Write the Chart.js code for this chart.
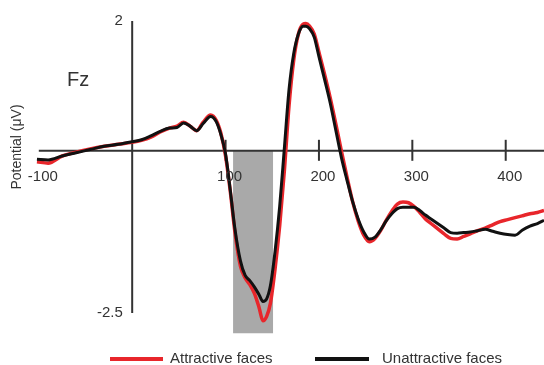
<!DOCTYPE html>
<html>
<head>
<meta charset="utf-8">
<script src="https://cdn.jsdelivr.net/npm/chart.js@4.4.1/dist/chart.umd.min.js"></script>
<style>
  html, body { margin: 0; padding: 0; background: #fff; }
  canvas { display: block; }
</style>
</head>
<body>
<canvas id="erpChart" width="544" height="365"></canvas>
<script>
/* ===================== DATA ===================== */
const timesMs = [-102, -90, -75, -60, -45, -30, -15, 0, 10, 20, 30, 40, 48, 55, 62, 69, 76, 84, 90, 95,
  100, 105, 110, 116, 121, 126, 131, 136, 140, 144, 148, 153, 158, 163, 168, 173, 178, 183, 186, 190,
  195, 200, 206, 212, 218, 224, 230, 236, 242, 248, 254, 260, 266, 272, 278, 284, 290, 296, 302, 308,
  314, 320, 327, 334, 341, 348, 355, 362, 370, 378, 386, 394, 402, 410, 418, 426, 434, 441];

const attractive = [-0.17, -0.19, -0.08, -0.02, 0.03, 0.07, 0.10, 0.13, 0.16, 0.21, 0.29, 0.35, 0.38, 0.44, 0.38, 0.31, 0.44, 0.55, 0.47, 0.27,
  -0.08, -0.62, -1.25, -1.78, -1.96, -2.06, -2.20, -2.42, -2.62, -2.55, -2.35, -1.82, -1.15, -0.30, 0.70, 1.40, 1.80, 1.95, 1.96, 1.92,
  1.80, 1.52, 1.18, 0.82, 0.42, 0.00, -0.40, -0.78, -1.08, -1.30, -1.40, -1.35, -1.23, -1.07, -0.93, -0.82, -0.79, -0.80, -0.86, -0.95,
  -1.05, -1.12, -1.20, -1.28, -1.35, -1.36, -1.32, -1.28, -1.23, -1.19, -1.14, -1.09, -1.06, -1.03, -1.00, -0.97, -0.95, -0.92];

const unattractive = [-0.13, -0.14, -0.08, -0.03, 0.02, 0.07, 0.10, 0.14, 0.17, 0.23, 0.30, 0.35, 0.36, 0.43, 0.38, 0.31, 0.42, 0.53, 0.45, 0.25,
  -0.05, -0.60, -1.20, -1.70, -1.92, -2.00, -2.10, -2.22, -2.32, -2.28, -2.08, -1.55, -0.85, 0.05, 0.95, 1.50, 1.80, 1.92, 1.92, 1.88,
  1.75, 1.45, 1.10, 0.74, 0.32, -0.10, -0.45, -0.78, -1.05, -1.25, -1.36, -1.33, -1.22, -1.08, -0.97, -0.89, -0.87, -0.87, -0.87, -0.92,
  -0.99, -1.05, -1.12, -1.19, -1.26, -1.27, -1.26, -1.25, -1.23, -1.21, -1.24, -1.27, -1.29, -1.30, -1.22, -1.16, -1.12, -1.07];

const xTicks = [-100, 100, 200, 300, 400];
const yTicks = [-2.5, 2];

// analysis window (ms) and how deep the grey box reaches (uV)
const shadeWindow = [108, 151];
const shadeDepth = -2.81;

const channelName = "Fz";
const yTitle = "Potential (\u03bcV)";
const seriesNames = ["Attractive faces", "Unattractive faces"];
const seriesColors = ["#e8262b", "#111111"];

/* ===================== PLUGINS ===================== */
const FONT = "'Liberation Sans', Arial, sans-serif";

// axis lines + crossing tick marks, drawn just after the grey window
const axesPlugin = {
  id: "erpAxes",
  afterDatasetDraw(chart, args) {
    if (args.index !== 0) return;
    const { ctx, chartArea } = chart;
    const x = chart.scales.x, y = chart.scales.y;
    const y0 = y.getPixelForValue(0);
    const x0 = x.getPixelForValue(0);

    ctx.save();
    ctx.strokeStyle = "#333";
    ctx.lineWidth = 2;

    ctx.beginPath();
    ctx.moveTo(x.getPixelForValue(xTicks[0]), y0);
    ctx.lineTo(chartArea.right, y0);
    ctx.stroke();

    ctx.beginPath();
    ctx.moveTo(x0, y.getPixelForValue(Math.max(...yTicks)));
    ctx.lineTo(x0, y.getPixelForValue(Math.min(...yTicks)));
    ctx.stroke();

    xTicks.forEach(v => {
      if (v <= xTicks[0]) return;
      const px = x.getPixelForValue(v);
      ctx.beginPath();
      ctx.moveTo(px, y0 - 11);
      ctx.lineTo(px, y0 + 10);
      ctx.stroke();
    });
    ctx.restore();
  }
};

// channel label, y title and the legend along the bottom
const labelsPlugin = {
  id: "erpLabels",
  afterDraw(chart) {
    const { ctx } = chart;
    ctx.save();
    ctx.fillStyle = "#333";
    ctx.textBaseline = "middle";

    ctx.font = "20px " + FONT;
    ctx.textAlign = "left";
    ctx.fillText(channelName, 67, 80);

    ctx.save();
    ctx.translate(17, 147);
    ctx.rotate(-Math.PI / 2);
    ctx.font = "14px " + FONT;
    ctx.textAlign = "center";
    ctx.fillText(yTitle, 0, 0);
    ctx.restore();

    const legendSpots = [[110, 163, 170], [315, 369, 382]];
    ctx.font = "15px " + FONT;
    ctx.textAlign = "left";
    [1, 2].forEach((dsIndex, i) => {
      const ds = chart.data.datasets[dsIndex];
      const [x1, x2, tx] = legendSpots[i];
      ctx.strokeStyle = ds.borderColor;
      ctx.lineWidth = 4;
      ctx.beginPath();
      ctx.moveTo(x1, 359);
      ctx.lineTo(x2, 359);
      ctx.stroke();
      ctx.fillStyle = "#333";
      ctx.fillText(ds.label, tx, 359);
    });
    ctx.restore();
  }
};

/* ===================== CHART ===================== */
const toPoints = (values) => timesMs.map((t, i) => ({ x: t, y: values[i] }));

new Chart(document.getElementById("erpChart"), {
  type: "line",
  data: {
    datasets: [
      {
        label: "window",
        data: shadeWindow.map(t => ({ x: t, y: shadeDepth })),
        fill: "origin",
        backgroundColor: "#a9a9a9",
        borderWidth: 0,
        pointRadius: 0,
        order: 3
      },
      {
        label: seriesNames[0],
        data: toPoints(attractive),
        borderColor: seriesColors[0],
        borderWidth: 3.5,
        pointRadius: 0,
        cubicInterpolationMode: "monotone",
        fill: false,
        order: 2
      },
      {
        label: seriesNames[1],
        data: toPoints(unattractive),
        borderColor: seriesColors[1],
        borderWidth: 3,
        pointRadius: 0,
        cubicInterpolationMode: "monotone",
        fill: false,
        order: 1
      }
    ]
  },
  options: {
    responsive: false,
    animation: false,
    layout: { padding: { left: 36, right: 0, top: 14.5, bottom: 29.2 } },
    plugins: {
      legend: { display: false },
      tooltip: { enabled: false }
    },
    scales: {
      x: {
        type: "linear",
        min: -103,
        max: 441,
        position: { y: 0 },
        grid: { display: false, drawTicks: false },
        border: { display: false },
        afterBuildTicks: (scale) => { scale.ticks = xTicks.map(v => ({ value: v })); },
        // z: 1 keeps the "100" label on top of the grey window
        ticks: { z: 1, padding: 17, labelOffset: 4, color: "#333", font: { family: FONT, size: 15 } }
      },
      y: {
        type: "linear",
        min: -2.85,
        max: 2.1,
        // labels sit flush against their anchor, so anchor them a little left of x = 0
        position: { x: -10 },
        grid: { display: false, drawTicks: false },
        border: { display: false },
        afterBuildTicks: (scale) => { scale.ticks = yTicks.map(v => ({ value: v })); },
        ticks: { color: "#333", font: { family: FONT, size: 15 } }
      }
    }
  },
  plugins: [axesPlugin, labelsPlugin]
});
</script>
</body>
</html>
